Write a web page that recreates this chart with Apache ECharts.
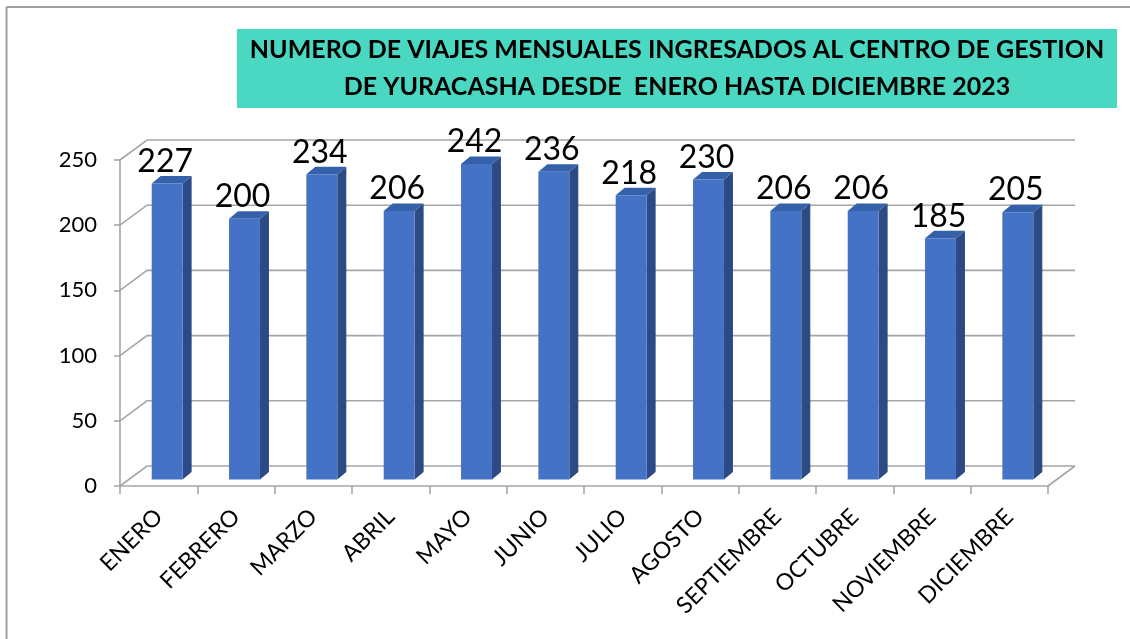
<!DOCTYPE html>
<html>
<head>
<meta charset="utf-8">
<script src="https://cdn.jsdelivr.net/npm/echarts@6/dist/echarts.min.js"></script>
<style>
  html, body { margin: 0; padding: 0; background: #fff; }
  #chart { width: 1130px; height: 639px; }
</style>
</head>
<body>
<div id="chart"></div>
<script>
var meses = ['ENERO', 'FEBRERO', 'MARZO', 'ABRIL', 'MAYO', 'JUNIO', 'JULIO', 'AGOSTO', 'SEPTIEMBRE', 'OCTUBRE', 'NOVIEMBRE', 'DICIEMBRE'];
var viajes = [227, 200, 234, 206, 242, 236, 218, 230, 206, 206, 185, 205];
var yTicks = [0, 50, 100, 150, 200, 250];
var titulo = 'NUMERO DE VIAJES MENSUALES INGRESADOS AL CENTRO DE GESTION\nDE YURACASHA DESDE  ENERO HASTA DICIEMBRE 2023';

var FONT = 'Lato, "Open Sans", sans-serif';
var GRID_COLOR = '#a6a6a6';
// profundidad de la pared del fondo
var WALL_DX = 27, WALL_DY = -20;

// paredes: lineas de division en el fondo, pared izquierda y piso
function renderWall(params, api) {
    var t = api.value(1);
    var p = api.coord([0, t]);
    var cs = params.coordSys;
    var x0 = cs.x, x1 = cs.x + cs.width, y = p[1];
    var style = { stroke: GRID_COLOR, lineWidth: 1.6, fill: null };
    var kids = [
        { type: 'polyline', shape: { points: [[x0, y], [x0 + WALL_DX, y + WALL_DY], [x1 + WALL_DX, y + WALL_DY]] }, style: style }
    ];
    if (t === 0) {
        kids.push({ type: 'line', shape: { x1: x1, y1: y, x2: x1 + WALL_DX, y2: y + WALL_DY }, style: style });
    }
    return { type: 'group', children: kids };
}

// barra 3D: cara frontal, lateral y superior
function renderBar(params, api) {
    var i = api.value(0), v = api.value(1);
    var base = api.coord([i, 0]);
    var top = api.coord([i, v]);
    var band = api.size([1, 0])[0];
    var w = band * 0.4;
    var ox = 8.5, oy = -6.5;
    var dx = 9, dy = -7.5;
    var xl = base[0] + ox - w / 2, xr = xl + w;
    var yb = base[1] + oy, yt = top[1] + oy;
    return {
        type: 'group',
        children: [
            { type: 'polygon', shape: { points: [[xr, yb], [xr + dx, yb + dy], [xr + dx, yt + dy], [xr, yt]] },
              style: { fill: '#2c4a84' } },
            { type: 'polygon', shape: { points: [[xl, yt], [xr, yt], [xr + dx, yt + dy], [xl + dx, yt + dy]] },
              style: { fill: '#3560aa' } },
            { type: 'rect', shape: { x: xl, y: yt, width: w, height: yb - yt },
              style: { fill: '#4472c4' } },
            { type: 'text', x: xl + w / 2 - 2, y: yt - 6,
              style: { text: String(v), align: 'center', verticalAlign: 'bottom',
                       font: '32px ' + FONT, fill: '#000' } }
        ]
    };
}

var myChart = echarts.init(document.getElementById('chart'));
var option = {
    backgroundColor: '#fff',
    animation: false,
    graphic: [
        { type: 'line', shape: { x1: 6.5, y1: 7, x2: 1130, y2: 7 }, style: { stroke: '#a0a0a0', lineWidth: 2 } },
        { type: 'line', shape: { x1: 6.5, y1: 7, x2: 6.5, y2: 639 }, style: { stroke: '#a0a0a0', lineWidth: 2 } },
        { type: 'rect', shape: { x: 237, y: 29, width: 880, height: 79 }, style: { fill: '#4ad8c2' } },
        { type: 'text', x: 677, y: 68.5,
          style: { text: titulo, align: 'center', verticalAlign: 'middle', lineHeight: 37,
                   font: 'bold 25px ' + FONT, fill: '#000' } }
    ],
    grid: { left: 120, right: 82, top: 160, bottom: 153 },
    xAxis: {
        type: 'category',
        data: meses,
        axisLine: { show: true, lineStyle: { color: GRID_COLOR, width: 1.6 } },
        axisTick: { show: true, length: 8, lineStyle: { color: GRID_COLOR, width: 1.6 } },
        axisLabel: { rotate: 45, margin: 27, fontSize: 23, fontFamily: FONT, color: '#000' }
    },
    yAxis: {
        type: 'value',
        min: 0,
        max: 250,
        interval: 50,
        axisLine: { show: true, lineStyle: { color: GRID_COLOR, width: 1.6 } },
        axisTick: { show: true, length: 6, lineStyle: { color: GRID_COLOR, width: 1.6 } },
        splitLine: { show: false },
        axisLabel: { margin: 23, fontSize: 22, fontFamily: FONT, color: '#000' }
    },
    series: [
        {
            type: 'custom',
            z: 1,
            silent: true,
            renderItem: renderWall,
            data: yTicks.map(function(t) { return [0, t]; })
        },
        {
            type: 'custom',
            z: 3,
            renderItem: renderBar,
            data: viajes.map(function(v, i) { return [i, v]; })
        }
    ]
};
myChart.setOption(option);
</script>
</body>
</html>
